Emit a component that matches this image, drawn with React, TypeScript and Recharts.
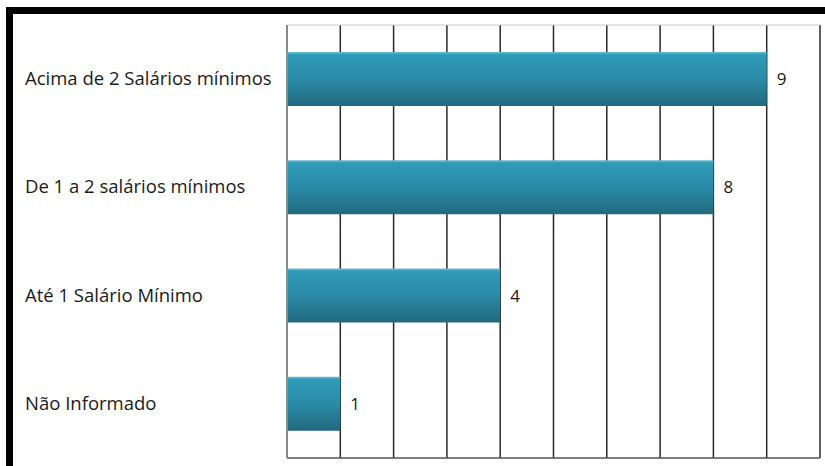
import React from "react";
import { BarChart, Bar, XAxis, YAxis, CartesianGrid, LabelList } from "recharts";

const categories = [
  "Acima de 2 Salários mínimos",
  "De 1 a 2 salários mínimos",
  "Até 1 Salário Mínimo",
  "Não Informado",
];
const values = [9, 8, 4, 1];
const xTicks = [0, 1, 2, 3, 4, 5, 6, 7, 8, 9, 10];

const data = categories.map((c, i) => ({ name: c, value: values[i] }));

const FONT = "'Open Sans', sans-serif";

const LeftTick = (props: any) => {
  const { y, payload } = props;
  return (
    <text x={25} y={y} dy={6} textAnchor="start" fontFamily={FONT} fontSize={18.5} fill="#1a1a1a">
      {payload.value}
    </text>
  );
};

const HiddenTick = () => <g />;

export default function App() {
  return (
    <div style={{ position: "absolute", left: 0, top: 0, width: 825, height: 466, background: "#fff", overflow: "hidden" }}>
      <div
        style={{
          position: "absolute",
          left: 6,
          top: 7,
          width: 900,
          height: 600,
          border: "7px solid #000",
          boxSizing: "border-box",
        }}
      />
      <div style={{ position: "absolute", left: 0, top: 0 }}>
        <BarChart
          width={825}
          height={466}
          data={data}
          layout="vertical"
          margin={{ top: 24, right: 5, bottom: 7, left: 7 }}
          barCategoryGap="25%"
        >
          <defs>
            <linearGradient id="barGrad" x1="0" y1="0" x2="0" y2="1">
              <stop offset="0%" stopColor="#6cbdd1" />
              <stop offset="5%" stopColor="#2f9bb8" />
              <stop offset="50%" stopColor="#2a8ba6" />
              <stop offset="100%" stopColor="#22697f" />
            </linearGradient>
          </defs>
          <CartesianGrid vertical={true} horizontal={false} stroke="#2a2a2a" strokeWidth={1.5} />
          <XAxis
            type="number"
            domain={[0, 10]}
            ticks={xTicks}
            height={1}
            tick={<HiddenTick />}
            tickLine={false}
            axisLine={{ stroke: "#555", strokeWidth: 1.5 }}
          />
          <XAxis
            xAxisId="top"
            orientation="top"
            type="number"
            domain={[0, 10]}
            ticks={xTicks}
            height={1}
            tick={<HiddenTick />}
            tickLine={false}
            axisLine={{ stroke: "#c8c8c8", strokeWidth: 1 }}
          />
          <YAxis
            type="category"
            dataKey="name"
            width={280}
            tick={<LeftTick />}
            tickLine={false}
            axisLine={{ stroke: "#999", strokeWidth: 1.5 }}
          />
          <Bar dataKey="value" fill="url(#barGrad)" isAnimationActive={false}>
            <LabelList
              dataKey="value"
              position="right"
              offset={10}
              fill="#1a1a1a"
              fontSize={17}
              fontFamily={FONT}
            />
          </Bar>
        </BarChart>
      </div>
    </div>
  );
}
